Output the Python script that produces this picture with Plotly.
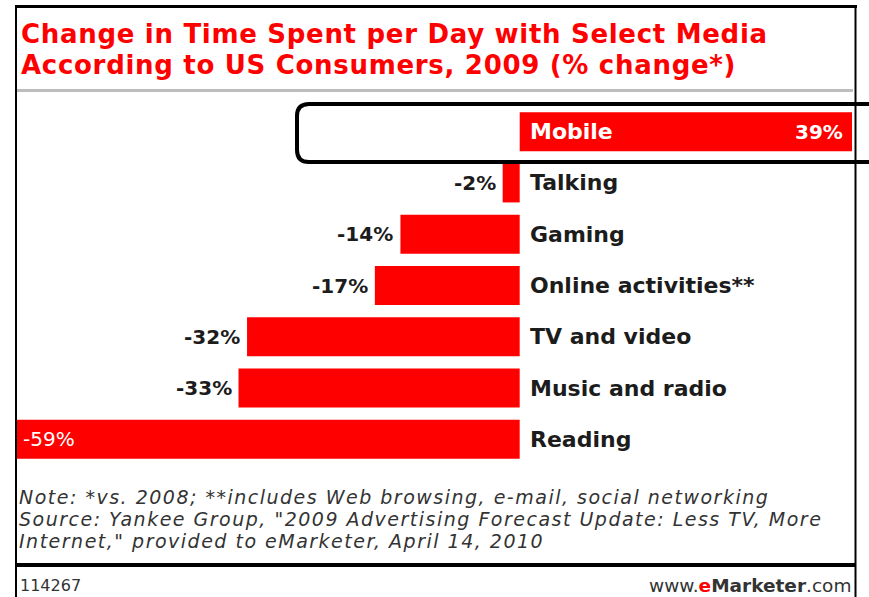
import plotly.graph_objects as go

# Data
categories = ["Mobile", "Talking", "Gaming", "Online activities**", "TV and video",
              "Music and radio", "Reading"]
values = [39, -2, -14, -17, -32, -33, -59]

title_lines = ["Change in Time Spent per Day with Select Media",
               "According to US Consumers, 2009 (% change*)"]
note_lines = ["Note: *vs. 2008; **includes Web browsing, e-mail, social networking",
              "Source: Yankee Group, \"2009 Advertising Forecast Update: Less TV, More",
              "Internet,\" provided to eMarketer, April 14, 2010"]
chart_id = "114267"

W, H = 869, 597
ML, MR, MT, MB = 17, 17, 106, 132
RED = "#ff0000"
INK = "#1c1c1c"
FONT = "DejaVu Sans"


def px(x):
    return (x - ML) / (W - ML - MR)


def py(y):
    return (H - MB - y) / (H - MT - MB)


def spaced(text, spacing):
    return f"<span style='letter-spacing:{spacing}px'>{text}</span>"


fig = go.Figure(go.Bar(
    x=values, y=categories, orientation="h",
    marker=dict(color=RED, line=dict(width=0)),
    hoverinfo="skip",
))

annotations = []
xmin = min(values)
CAT, VAL = 22, 20
for cat, v in zip(categories, values):
    label = f"{v}%"
    if v >= 0:
        # positive bar: category and value sit inside the bar in white
        annotations.append(dict(x=0, y=cat, xref="x", yref="y", text=cat,
                                xanchor="left", xshift=8, showarrow=False,
                                font=dict(family=FONT, size=CAT, color="white", weight="bold")))
        annotations.append(dict(x=v, y=cat, xref="x", yref="y", text=label,
                                xanchor="right", xshift=-7, showarrow=False,
                                font=dict(family=FONT, size=VAL, color="white", weight="bold")))
    else:
        annotations.append(dict(x=0, y=cat, xref="x", yref="y", text=cat,
                                xanchor="left", xshift=8, showarrow=False,
                                font=dict(family=FONT, size=CAT, color=INK, weight="bold")))
        if v == xmin:
            annotations.append(dict(x=v, y=cat, xref="x", yref="y", text=label,
                                    xanchor="left", xshift=4, showarrow=False,
                                    font=dict(family=FONT, size=VAL, color="white")))
        else:
            annotations.append(dict(x=v, y=cat, xref="x", yref="y", text=label,
                                    xanchor="right", xshift=-5, showarrow=False,
                                    font=dict(family=FONT, size=VAL, color=INK, weight="bold")))

# title
for line, yc in zip(title_lines, [34, 65]):
    annotations.append(dict(x=px(19), y=py(yc), xref="paper", yref="paper",
                            text=spaced(line, 0.7),
                            xanchor="left", yanchor="middle", showarrow=False,
                            font=dict(family=FONT, size=26, color=RED, weight="bold")))

# notes
for line, yc in zip(note_lines, [497, 519, 541]):
    annotations.append(dict(x=px(17), y=py(yc), xref="paper", yref="paper",
                            text=spaced(line, 1.5),
                            xanchor="left", yanchor="middle", showarrow=False,
                            font=dict(family=FONT, size=19, color="#333333", style="italic")))

# footer
annotations.append(dict(x=px(18), y=py(585), xref="paper", yref="paper", text=chart_id,
                        xanchor="left", yanchor="middle", showarrow=False,
                        font=dict(family=FONT, size=16, color="#333333")))
annotations.append(dict(x=px(853), y=py(585), xref="paper", yref="paper",
                        text="www.<b><span style='color:#ff0000'>e</span>Marketer</b>.com",
                        xanchor="right", yanchor="middle", showarrow=False,
                        font=dict(family=FONT, size=18.5, color="#333333")))

shapes = [
    # frame
    dict(type="line", x0=px(15), x1=px(857), y0=py(6.5), y1=py(6.5), xref="paper", yref="paper",
         line=dict(color="black", width=3)),
    dict(type="line", x0=px(16), x1=px(16), y0=py(5), y1=py(600), xref="paper", yref="paper",
         line=dict(color="black", width=2)),
    dict(type="line", x0=px(855.5), x1=px(855.5), y0=py(5), y1=py(600), xref="paper", yref="paper",
         line=dict(color="black", width=2)),
    # rule under the title
    dict(type="line", x0=px(17), x1=px(853), y0=py(90.5), y1=py(90.5), xref="paper", yref="paper",
         line=dict(color="#bdbdbd", width=3)),
    # rule above the footer
    dict(type="line", x0=px(16), x1=px(855), y0=py(565), y1=py(565), xref="paper", yref="paper",
         line=dict(color="black", width=4)),
]

# rounded callout around the first row, open to the right
L, T, B, R = 297, 104, 162, 12
path = (f"M {px(880)},{py(T)} L {px(L + R)},{py(T)} "
        f"Q {px(L)},{py(T)} {px(L)},{py(T + R)} "
        f"L {px(L)},{py(B - R)} "
        f"Q {px(L)},{py(B)} {px(L + R)},{py(B)} "
        f"L {px(880)},{py(B)}")
shapes.append(dict(type="path", path=path, xref="paper", yref="paper",
                   line=dict(color="black", width=4)))

fig.update_layout(
    width=W, height=H, autosize=False,
    margin=dict(l=ML, r=MR, t=MT, b=MB, pad=0),
    paper_bgcolor="white", plot_bgcolor="white",
    showlegend=False, bargap=0.24,
    xaxis=dict(range=[xmin, max(values)], visible=False, fixedrange=True),
    yaxis=dict(categoryorder="array", categoryarray=categories, range=[6.5, -0.5],
               visible=False, fixedrange=True),
    annotations=annotations, shapes=shapes,
    font=dict(family=FONT),
)

fig.write_html("out.html", config={"displayModeBar": False})
